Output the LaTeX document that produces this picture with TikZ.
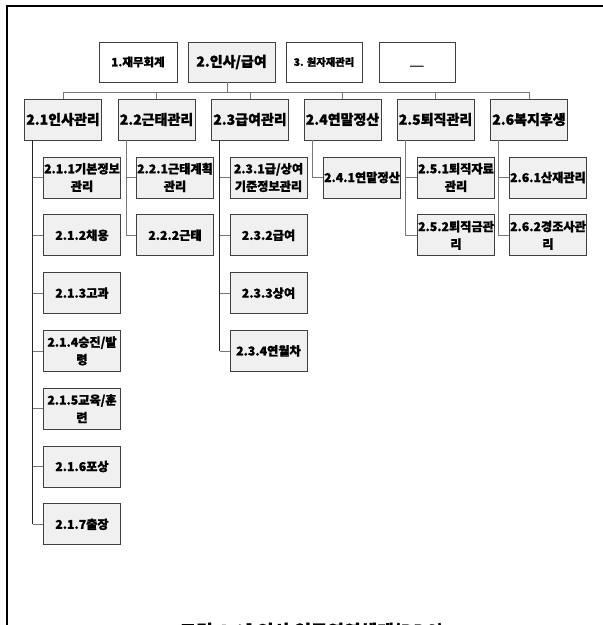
\documentclass[tikz,border=0pt]{standalone}
\usepackage{fontspec}
\newfontfamily\kr{Noto Sans CJK KR}[BoldFeatures={FakeBold=1.2}]
\definecolor{boxgray}{RGB}{240,240,240}
\definecolor{linegray}{RGB}{120,120,120}
\tikzset{
  box/.style={draw=black!75, line width=0.8pt, fill=boxgray, minimum width=77pt, minimum height=41pt,
    inner sep=1pt, align=center, font=\kr\bfseries\fontsize{12.2}{17.5}\selectfont},
  midbox/.style={box, minimum width=77pt, inner sep=0.5pt, font=\kr\bfseries\fontsize{14}{15}\selectfont},
  topbox/.style={draw=black!75, line width=0.8pt, fill=white, minimum width=77pt, minimum height=40pt,
    inner sep=1pt, align=center, font=\kr\bfseries\fontsize{11.5}{13}\selectfont},
  conn/.style={draw=linegray, line width=0.8pt},
  spine/.style={draw=black!85, line width=0.9pt},
}
\begin{document}
\begin{tikzpicture}[x=1pt,y=-1pt]
\useasboundingbox (0,0) rectangle (603,625);
\fill[white] (0,0) rectangle (603,625);
% outer frame
\draw[line width=1.6pt, black] (7,640) -- (7,6) -- (610,6);

% top row
\node[topbox, minimum width=78pt] (t1) at (138,62) {1.재무회계};
\node[topbox, minimum width=87pt, fill=boxgray, font=\kr\bfseries\fontsize{14}{15}\selectfont] (t2) at (231.5,62) {2.인사/급여};
\node[topbox, minimum width=76pt, font=\kr\bfseries\fontsize{10.3}{13}\selectfont] (t3) at (324,62) {3. 원자재관리};
\node[topbox, minimum width=76pt] (t4) at (417,62) {\raisebox{-9pt}[0pt][0pt]{\fontsize{17}{17}\selectfont\mdseries —}};

% level 2
\node[midbox] (l21) at (63,119.5) {2.1인사관리};
\node[midbox] (l22) at (156.5,119.5) {2.2근태관리};
\node[midbox] (l23) at (250,119.5) {2.3급여관리};
\node[midbox] (l24) at (342.5,119.5) {2.4연말정산};
\node[midbox] (l25) at (435.5,119.5) {2.5퇴직관리};
\node[midbox] (l26) at (529,119.5) {2.6복지후생};

% bus
\coordinate (busL) at (63,92);
\coordinate (busR) at (529,92);
\draw[conn] (busL) -- (busR);
\draw[conn] ([xshift=-4.5pt]t2.south) -- ([xshift=-4.5pt]t2.south |- busL);
\foreach \n in {l21,l22,l23,l24,l25,l26}
  \draw[conn] (\n.north) -- (\n.north |- busL);

% level 3 : column 1
\node[box] (c211) at (82,177.5) {2.1.1기본정보\\관리};
\node[box] (c212) at (82,235.3) {2.1.2채용};
\node[box] (c213) at (82,293.1) {2.1.3고과};
\node[box] (c214) at (82,350.9) {2.1.4승진/발\\령};
\node[box] (c215) at (82,408.7) {2.1.5교육/훈\\련};
\node[box] (c216) at (82,466.5) {2.1.6포상};
\node[box] (c217) at (82,524.3) {2.1.7출장};
% column 2
\node[box] (c221) at (175,177.5) {2.2.1근태계획\\관리};
\node[box] (c222) at (175,235.3) {2.2.2근태};
% column 3
\node[box] (c231) at (268.5,177.5) {2.3.1급/상여\\기준정보관리};
\node[box] (c232) at (268.5,235.3) {2.3.2급여};
\node[box] (c233) at (268.5,293.1) {2.3.3상여};
\node[box] (c234) at (268.5,350.9) {2.3.4연월차};
% column 4
\node[box] (c241) at (362,177.5) {2.4.1연말정산};
% column 5
\node[box] (c251) at (456,177.5) {2.5.1퇴직자료\\관리};
\node[box] (c252) at (456,235.3) {2.5.2퇴직금관\\리};
% column 6
\node[box] (c261) at (548,177.5) {2.6.1산재관리};
\node[box] (c262) at (548,235.3) {2.6.2경조사관\\리};

% spines
\draw[spine] ([xshift=-30.5pt]l21.south) -- ([xshift=-30.5pt]l21.south |- c217.west);
\foreach \c in {c211,c212,c213,c214,c215,c216,c217}
  \draw[conn] ([xshift=-30.5pt]l21.south |- \c.west) -- (\c.west);
\draw[conn] ([xshift=-30.5pt]l22.south) |- (c222.west);
\draw[conn] ([xshift=-30.5pt]l22.south |- c221.west) -- (c221.west);
\draw[spine] ([xshift=-30.5pt]l23.south) -- ([xshift=-30.5pt]l23.south |- c234.west);
\foreach \c in {c231,c232,c233,c234}
  \draw[conn] ([xshift=-30.5pt]l23.south |- \c.west) -- (\c.west);
\draw[conn] ([xshift=-30.5pt]l24.south) |- (c241.west);
\draw[conn] ([xshift=-30.5pt]l25.south) |- (c252.west);
\draw[conn] ([xshift=-30.5pt]l25.south |- c251.west) -- (c251.west);
\draw[conn] ([xshift=-30.5pt]l26.south) |- (c262.west);
\draw[conn] ([xshift=-30.5pt]l26.south |- c261.west) -- (c261.west);

% caption (cut off at the lower edge, as in the reference)
\node[anchor=base, font=\kr\bfseries\fontsize{18}{20}\selectfont] (cap) at (312,638) {그림 4-3] 인사 업무영역체계(BPS)};
\end{tikzpicture}
\end{document}
